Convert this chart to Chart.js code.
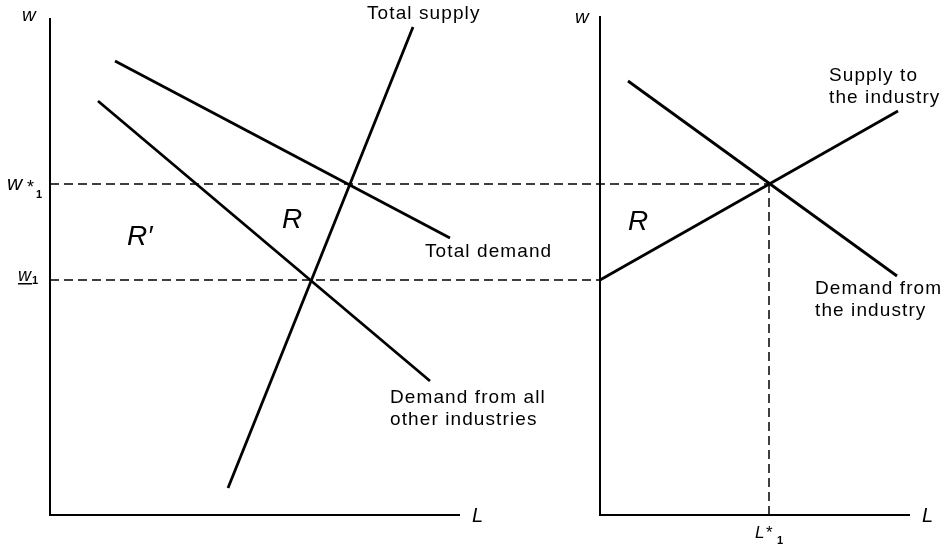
<!DOCTYPE html>
<html>
<head>
<meta charset="utf-8">
<script src="https://cdn.jsdelivr.net/npm/chart.js@4.4.0/dist/chart.umd.min.js"></script>
<style>
    html, body { margin: 0; padding: 0; background: #fff; }
    canvas { display: block; }
</style>
</head>
<body>
<canvas id="labourChart" width="951" height="544"></canvas>
<script>
// Datos (L en horizontal, w en vertical, unidades arbitrarias)
const wLevels = [23.5, 33.1];      // w_1, w*_1
const lStar = 71.9;                // L*_1
const axisX = [0, 55];             // origen de cada panel
const axisTop = [49.7, 49.9];
const axisEnd = [41, 86];

// Panel izquierdo
const totalDemand = [[6.5, 45.4], [40, 27.7]];
const otherDemand = [[4.8, 41.4], [38, 13.4]];
const totalSupply = [[17.8, 2.7], [36.3, 48.8]];
// Panel derecho
const industryDemand = [[57.8, 43.4], [84.7, 23.9]];
const industrySupply = [[55, 23.5], [84.8, 40.4]];

const FONT = "'Liberation Sans', Arial, sans-serif";

// Textos
const notes = [
    { text: 'Total supply', x: 31.7, y: 49.6 },
    { text: 'Total demand', x: 37.5, y: 25.8 },
    { text: 'Demand from all', x: 34, y: 11.2 },
    { text: 'other industries', x: 34, y: 9.0 },
    { text: 'Supply to', x: 77.9, y: 43.4 },
    { text: 'the industry', x: 77.9, y: 41.2 },
    { text: 'Demand from', x: 76.5, y: 22.1 },
    { text: 'the industry', x: 76.5, y: 19.9 }
];
const regions = [
    { text: 'R\u2032', x: 7.7, y: 27.0 },
    { text: 'R', x: 23.2, y: 28.7 },
    { text: 'R', x: 57.8, y: 28.5 }
];

function pts(arr) {
    return arr.map(p => ({ x: p[0], y: p[1] }));
}

function solid(data, width) {
    return {
        data: pts(data),
        borderColor: '#000',
        borderWidth: width,
        pointRadius: 0,
        tension: 0,
        fill: false,
        clip: false,
        borderCapStyle: 'butt'
    };
}

function dashed(data) {
    const ds = solid(data, 1.5);
    ds.borderDash = [9, 5];
    return ds;
}

// Dibuja un texto compuesto (w*1, L*1...) a partir de un punto de anclaje
function drawParts(ctx, px, py, parts) {
    parts.forEach(p => {
        ctx.font = p.font;
        ctx.fillText(p.t, px + p.dx, py + p.dy);
    });
}

const labelsPlugin = {
    id: 'labels',
    afterDraw(chart) {
        const ctx = chart.ctx;
        const x = chart.scales.x;
        const y = chart.scales.y;
        ctx.save();
        ctx.fillStyle = '#000';
        ctx.textAlign = 'left';
        ctx.textBaseline = 'alphabetic';

        // Etiquetas de las curvas
        if ('letterSpacing' in ctx) ctx.letterSpacing = '1.1px';
        ctx.font = '19px ' + FONT;
        notes.forEach(n => ctx.fillText(n.text, x.getPixelForValue(n.x), y.getPixelForValue(n.y)));
        if ('letterSpacing' in ctx) ctx.letterSpacing = '0px';

        // Regiones R y R'
        ctx.font = 'italic 28px ' + FONT;
        regions.forEach(r => ctx.fillText(r.text, x.getPixelForValue(r.x), y.getPixelForValue(r.y)));

        // Nombres de los ejes
        ctx.font = 'italic 19px ' + FONT;
        ctx.fillText('w', x.getPixelForValue(axisX[0]) - 28, y.getPixelForValue(axisTop[0]) + 3);
        ctx.fillText('w', x.getPixelForValue(axisX[1]) - 25, y.getPixelForValue(axisTop[1]) + 7);
        ctx.font = 'italic 20px ' + FONT;
        ctx.fillText('L', x.getPixelForValue(axisEnd[0]) + 12, y.getPixelForValue(0) + 7);
        ctx.fillText('L', x.getPixelForValue(axisEnd[1]) + 12, y.getPixelForValue(0) + 7);

        // w*1
        drawParts(ctx, x.getPixelForValue(axisX[0]), y.getPixelForValue(wLevels[1]), [
            { t: 'w', dx: -43, dy: 6, font: 'italic 21px ' + FONT },
            { t: '*', dx: -23, dy: 9, font: '18px ' + FONT },
            { t: '1', dx: -14, dy: 14, font: 'bold 11px ' + FONT }
        ]);
        // w1 subrayado
        const wx = x.getPixelForValue(axisX[0]);
        const wy = y.getPixelForValue(wLevels[0]);
        drawParts(ctx, wx, wy, [
            { t: 'w', dx: -32, dy: 1, font: 'italic 18px ' + FONT },
            { t: '1', dx: -18, dy: 4, font: 'bold 11px ' + FONT }
        ]);
        ctx.fillRect(wx - 32, wy + 3, 14, 1.5);
        // L*1
        drawParts(ctx, x.getPixelForValue(lStar), y.getPixelForValue(0), [
            { t: 'L', dx: -14, dy: 23, font: 'italic 17px ' + FONT },
            { t: '*', dx: -3, dy: 23, font: '17px ' + FONT },
            { t: '1', dx: 8, dy: 29, font: 'bold 11px ' + FONT }
        ]);
        ctx.restore();
    }
};

document.addEventListener('DOMContentLoaded', function() {
    const ctx = document.getElementById('labourChart');
    new Chart(ctx, {
        type: 'line',
        data: {
            datasets: [
                // Ejes
                solid([[axisX[0], axisTop[0]], [axisX[0], 0], [axisEnd[0], 0]], 2),
                solid([[axisX[1], axisTop[1]], [axisX[1], 0], [axisEnd[1], 0]], 2),
                // Líneas de referencia
                dashed([[axisX[0], wLevels[1]], [lStar, wLevels[1]]]),
                dashed([[axisX[0], wLevels[0]], [axisX[1], wLevels[0]]]),
                dashed([[lStar, 0], [lStar, wLevels[1]]]),
                // Curvas
                solid(totalDemand, 2.8),
                solid(otherDemand, 2.8),
                solid(totalSupply, 2.8),
                solid(industryDemand, 2.8),
                solid(industrySupply, 2.8)
            ]
        },
        options: {
            responsive: false,
            animation: false,
            devicePixelRatio: 1,
            layout: { padding: { left: 50, right: 41, top: 15, bottom: 29 } },
            plugins: {
                legend: { display: false },
                tooltip: { enabled: false }
            },
            scales: {
                x: { type: 'linear', min: 0, max: 86, display: false },
                y: { type: 'linear', min: 0, max: 50, display: false }
            }
        },
        plugins: [labelsPlugin]
    });
});
</script>
</body>
</html>
